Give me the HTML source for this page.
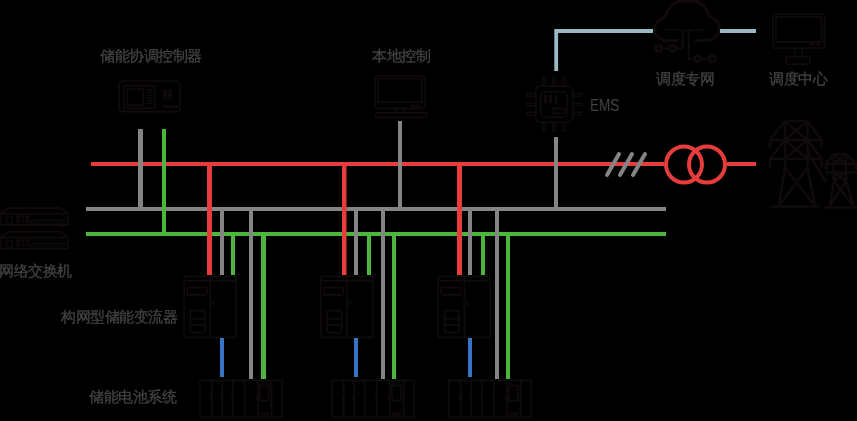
<!DOCTYPE html>
<html><head><meta charset="utf-8">
<style>
html,body{margin:0;padding:0;background:#000;width:857px;height:421px;overflow:hidden}
svg{position:absolute;left:0;top:0}
.t{position:absolute;font-family:"Liberation Sans",sans-serif;font-size:15px;letter-spacing:-0.5px;color:#444242;-webkit-text-stroke:0.3px #444242;white-space:nowrap;line-height:1;will-change:transform}
.e{letter-spacing:0;-webkit-text-stroke:0.1px #444242;font-size:16.5px;transform:scaleX(0.815);transform-origin:0 0}
</style></head><body>
<svg width="857" height="421" viewBox="0 0 857 421">
<g fill="none" stroke="#100a0a" stroke-width="1.8">
<!-- controller icon -->
<rect x="119" y="81.2" width="61" height="30.5" rx="4"/>
<rect x="123.9" y="86" width="31" height="22.3"/>
<rect x="127.2" y="89.2" width="16" height="16"/>
<!-- local monitor -->
<path d="M377 75.8 H423 L425.2 78 V106 L423 108.3 H377 L375 106 V78 Z"/>
<rect x="378" y="78.6" width="43.6" height="23.7"/>
<rect x="375.3" y="112.9" width="51.4" height="4.6" rx="2.3"/>
<path d="M396.4 108.5 V112.5 M403.2 108.5 V112.5"/>
<!-- dispatch monitor -->
<rect x="773.2" y="14.2" width="51" height="33.9" rx="1"/>
<rect x="776" y="17" width="45.3" height="25"/>
<path d="M794.5 49 V56 M802.3 49 V56"/>
<rect x="786" y="56.9" width="24" height="7.2" rx="1"/>
<!-- EMS chip -->
<rect x="535.8" y="86.2" width="36.8" height="36.2" rx="5"/>
<rect x="540.8" y="91.8" width="26.6" height="25.6" rx="4"/>
<rect x="552.2" y="108.5" width="13.2" height="4.8" rx="1.5"/>
<g stroke-width="1.4"><rect x="542.9" y="77.6" width="2.6" height="9"/><rect x="542.9" y="122" width="2.6" height="9.4"/><rect x="552.7" y="77.6" width="2.6" height="9"/><rect x="552.7" y="122" width="2.6" height="9.4"/><rect x="562.2" y="77.6" width="2.6" height="9"/><rect x="562.2" y="122" width="2.6" height="9.4"/><rect x="526.8" y="93.6" width="9" height="2.6"/><rect x="572.6" y="93.6" width="9" height="2.6"/><rect x="526.8" y="103.0" width="9" height="2.6"/><rect x="572.6" y="103.0" width="9" height="2.6"/><rect x="526.8" y="112.4" width="9" height="2.6"/><rect x="572.6" y="112.4" width="9" height="2.6"/></g>
<!-- cloud -->
<path stroke-width="2.9" d="M654.5 30 C654 24 659 19 665 17 C667 9 673 2 681 1.2 H695 C702 2 706 8 709 16 C716 19 720 24 719.5 30 C719 35 713 40 707 40.5 H694.5 M678.5 40.5 H665 C659 39.5 655 35 654.5 30"/>
<path stroke-width="2.2" d="M682.5 29.5 V48.3 H676 M688.8 29.5 V59 H694 M669 48.3 H662"/>
<path stroke-width="2.2" d="M701 58.9 H709"/>
<circle cx="658.6" cy="48.3" r="3.1" stroke-width="3"/>
<circle cx="672.8" cy="48.3" r="3.1" stroke-width="3"/>
<circle cx="697.5" cy="58.8" r="3.1" stroke-width="3"/>
<circle cx="712.3" cy="58.8" r="3.1" stroke-width="3"/>
<path d="M665.5 30.2 H705.5" stroke-dasharray="1.5 1" stroke-width="2.4"/>
<!-- switches -->
<path d="M0.5 213.8 L8.5 208 H60.4 L68 213.8 V225 H0.5 Z M0.5 213.8 H68"/>
<path d="M0.5 237.6 L8.5 231.8 H60.4 L68 237.6 V248.8 H0.5 Z M0.5 237.6 H68"/>
<rect x="6.3" y="217.2" width="5.5" height="6.6" stroke-width="1.4"/><path d="M16.9 214.5 V224.5 M28.6 214.5 V224.5 M30 220.0 H66.5" stroke-width="1.4"/><path d="M30.5 222.6 H66" stroke-width="2.2" stroke-dasharray="2.2 1.4"/><path d="M19 215.5 V223.8 M22.7 215.5 V223.8 M26.4 215.5 V223.8" stroke-width="2.2" stroke-dasharray="3 1.2"/><rect x="6.3" y="241.0" width="5.5" height="6.6" stroke-width="1.4"/><path d="M16.9 238.3 V248.3 M28.6 238.3 V248.3 M30 243.8 H66.5" stroke-width="1.4"/><path d="M30.5 246.4 H66" stroke-width="2.2" stroke-dasharray="2.2 1.4"/><path d="M19 239.3 V247.6 M22.7 239.3 V247.6 M26.4 239.3 V247.6" stroke-width="2.2" stroke-dasharray="3 1.2"/>
<!-- tower -->
<g stroke-width="2.6">
<path d="M785 121 H807.5 M785 121 L770 140 V147.5 M807.5 121 L821.5 140 V147.5 M770 140 H821.5 M785 121 V167.5 M807.5 121 V167.5 M785 121 L807.5 140 M807.5 121 L785 140 M785 140 L807.5 159 M807.5 140 L785 159 M785 140 L770 159 V167.5 M807.5 140 L821.5 159 V167.5 M770 159 H821.5 M785 167.5 L778.8 206 M807.5 167.5 L815 206 M785 167.5 L815 206 M807.5 167.5 L778.8 206 M771 206.5 H820 M808 152 L826 182.5"/>
<path d="M833.8 154 H846 M833.8 154 L826 163.8 V170 M846 154 L856 163.8 V170 M826 163.8 H857 M826 172.5 H857 M833.8 154 V181 M846 154 V181 M833.8 154 L846 163.8 M846 154 L833.8 163.8 M833.8 172.5 L846 181 M846 172.5 L833.8 181 M833.8 181 L830 206 M846 181 L853.8 206 M833.8 181 L853.8 206 M846 181 L830 206 M824.5 207.5 H857"/>
</g>
<!-- converters -->
<g>
<rect x="184" y="276.3" width="52" height="61.2" rx="2"/>
<path d="M210.2 276.3 V337.5 M184 280.8 H236"/>
<rect x="187" y="287.6" width="19.8" height="7.4" rx="1.5"/>
<rect x="190.3" y="310.5" width="14.6" height="22.2" rx="1.5"/>
<path d="M190.3 318.8 H204.9 M190.3 325 H204.9 M213 300.5 V306"/>
</g>
<g transform="translate(136.7 0)">
<rect x="184" y="276.3" width="52" height="61.2" rx="2"/>
<path d="M210.2 276.3 V337.5 M184 280.8 H236"/>
<rect x="187" y="287.6" width="19.8" height="7.4" rx="1.5"/>
<rect x="190.3" y="310.5" width="14.6" height="22.2" rx="1.5"/>
<path d="M190.3 318.8 H204.9 M190.3 325 H204.9 M213 300.5 V306"/>
</g>
<g transform="translate(254.2 0)">
<rect x="184" y="276.3" width="52" height="61.2" rx="2"/>
<path d="M210.2 276.3 V337.5 M184 280.8 H236"/>
<rect x="187" y="287.6" width="19.8" height="7.4" rx="1.5"/>
<rect x="190.3" y="310.5" width="14.6" height="22.2" rx="1.5"/>
<path d="M190.3 318.8 H204.9 M190.3 325 H204.9 M213 300.5 V306"/>
</g>
<!-- batteries -->
<g>
<rect x="200" y="380.5" width="82.2" height="36.8"/>
<path d="M211.8 380.5 V417.3 M222.3 380.5 V417.3 M233 380.5 V417.3 M245 380.5 V417.3 M257.8 380.5 V417.3 M271.5 380.5 V417.3"/>
<rect x="259.8" y="385.5" width="9" height="15"/>
<path d="M260 412.8 H269 M260 414.8 H269 M210.5 396 V400 M221 396 V400 M232 396 V400 M244 396 V400 M256.5 396 V400" stroke-width="1.5"/>
</g>
<g transform="translate(132 0)">
<rect x="200" y="380.5" width="82.2" height="36.8"/>
<path d="M211.8 380.5 V417.3 M222.3 380.5 V417.3 M233 380.5 V417.3 M245 380.5 V417.3 M257.8 380.5 V417.3 M271.5 380.5 V417.3"/>
<rect x="259.8" y="385.5" width="9" height="15"/>
<path d="M260 412.8 H269 M260 414.8 H269 M210.5 396 V400 M221 396 V400 M232 396 V400 M244 396 V400 M256.5 396 V400" stroke-width="1.5"/>
</g>
<g transform="translate(249 0)">
<rect x="200" y="380.5" width="82.2" height="36.8"/>
<path d="M211.8 380.5 V417.3 M222.3 380.5 V417.3 M233 380.5 V417.3 M245 380.5 V417.3 M257.8 380.5 V417.3 M271.5 380.5 V417.3"/>
<rect x="259.8" y="385.5" width="9" height="15"/>
<path d="M260 412.8 H269 M260 414.8 H269 M210.5 396 V400 M221 396 V400 M232 396 V400 M244 396 V400 M256.5 396 V400" stroke-width="1.5"/>
</g>
</g>
<g fill="#100a0a">
<rect x="147.1" y="88.9" width="5.7" height="1.6"/><rect x="147.1" y="91.6" width="5.7" height="1.6"/><rect x="147.1" y="94.3" width="5.7" height="1.6"/><rect x="147.1" y="97" width="5.7" height="1.6"/><rect x="147.1" y="99.7" width="5.7" height="1.6"/><rect x="147.1" y="102.4" width="5.7" height="1.6"/>
<path d="M163 89.8 H167 V99.1 H163 Z M164.2 91.8 V93 H165.6 V91.8 Z M164.2 96 V97.2 H165.6 V96 Z" fill-rule="evenodd"/>
<path d="M167.8 89.8 H171.9 V99.1 H167.8 Z M169 91.8 V93 H170.4 V91.8 Z M169 96 V97.2 H170.4 V96 Z" fill-rule="evenodd"/>
<rect x="163" y="105.2" width="14.8" height="2.8"/>
<rect x="411.3" y="104.3" width="3.8" height="2.6"/><rect x="416.1" y="104.3" width="4.5" height="2.6"/>
<rect x="810.2" y="42.8" width="3.5" height="2.8"/><rect x="815.3" y="42.8" width="4.7" height="2.8"/>
<rect x="544" y="94.8" width="2.8" height="8.5"/><rect x="549.3" y="94.8" width="2.8" height="8.5"/><rect x="554.6" y="94.8" width="2.8" height="8.5"/>
</g>
<!-- buses -->
<rect x="91" y="162" width="573" height="4" fill="#e63c3c"/>
<rect x="727" y="162" width="29" height="4" fill="#e63c3c"/>
<rect x="86" y="207" width="580" height="4" fill="#848484"/>
<rect x="86" y="232" width="580" height="4" fill="#4cb63c"/>
<!-- light blue comm -->
<path d="M556.2 71 V31 H653 M720 31 H756" stroke="#99bac5" stroke-width="3.8" fill="none"/>
<!-- controller verticals -->
<rect x="138" y="129" width="5" height="80" fill="#848484"/>
<rect x="162" y="129" width="4" height="105" fill="#4cb63c"/>
<!-- local & ems verticals -->
<rect x="398" y="121" width="4" height="88" fill="#848484"/>
<rect x="554" y="137" width="4" height="72" fill="#848484"/>
<!-- group1 -->
<rect x="220" y="209" width="4" height="66" fill="#848484"/>
<rect x="231" y="234" width="4" height="41" fill="#4cb63c"/>
<rect x="249" y="209" width="4" height="170" fill="#848484"/>
<rect x="261" y="234" width="5" height="145" fill="#4cb63c"/>
<rect x="207" y="164" width="5" height="111" fill="#e63c3c"/>
<rect x="220" y="338" width="4" height="39" fill="#3774c4"/>
<!-- group2 -->
<rect x="354" y="209" width="4" height="66" fill="#848484"/>
<rect x="367" y="234" width="4" height="41" fill="#4cb63c"/>
<rect x="381" y="209" width="4" height="170" fill="#848484"/>
<rect x="392" y="234" width="4" height="145" fill="#4cb63c"/>
<rect x="342" y="164" width="4.5" height="111" fill="#e63c3c"/>
<rect x="354" y="338" width="4" height="39" fill="#3774c4"/>
<!-- group3 -->
<rect x="468" y="209" width="4" height="66" fill="#848484"/>
<rect x="481" y="234" width="4" height="41" fill="#4cb63c"/>
<rect x="495" y="209" width="4" height="170" fill="#848484"/>
<rect x="506" y="234" width="4" height="145" fill="#4cb63c"/>
<rect x="457" y="164" width="5" height="111" fill="#e63c3c"/>
<rect x="468" y="338" width="4" height="39" fill="#3774c4"/>
<!-- hatch -->
<g stroke="#848484" stroke-width="4" stroke-linecap="round">
<line x1="607" y1="175" x2="619" y2="154"/>
<line x1="620" y1="175" x2="632" y2="154"/>
<line x1="633" y1="175" x2="645" y2="154"/>
</g>
<!-- transformer -->
<g stroke="#e63c3c" stroke-width="4" fill="none">
<circle cx="684" cy="164.5" r="18"/>
<circle cx="707" cy="164.5" r="18"/>
</g>
</svg>
<div class="t" style="left:99.5px;top:47.8px">储能协调控制器</div>
<div class="t" style="left:371.5px;top:47.8px">本地控制</div>
<div class="t e" style="left:589.8px;top:97px">EMS</div>
<div class="t" style="left:656px;top:71px">调度专网</div>
<div class="t" style="left:769px;top:71px">调度中心</div>
<div class="t" style="left:-1px;top:263px">网络交换机</div>
<div class="t" style="left:61px;top:309px">构网型储能变流器</div>
<div class="t" style="left:89px;top:389px">储能电池系统</div>
</body></html>
